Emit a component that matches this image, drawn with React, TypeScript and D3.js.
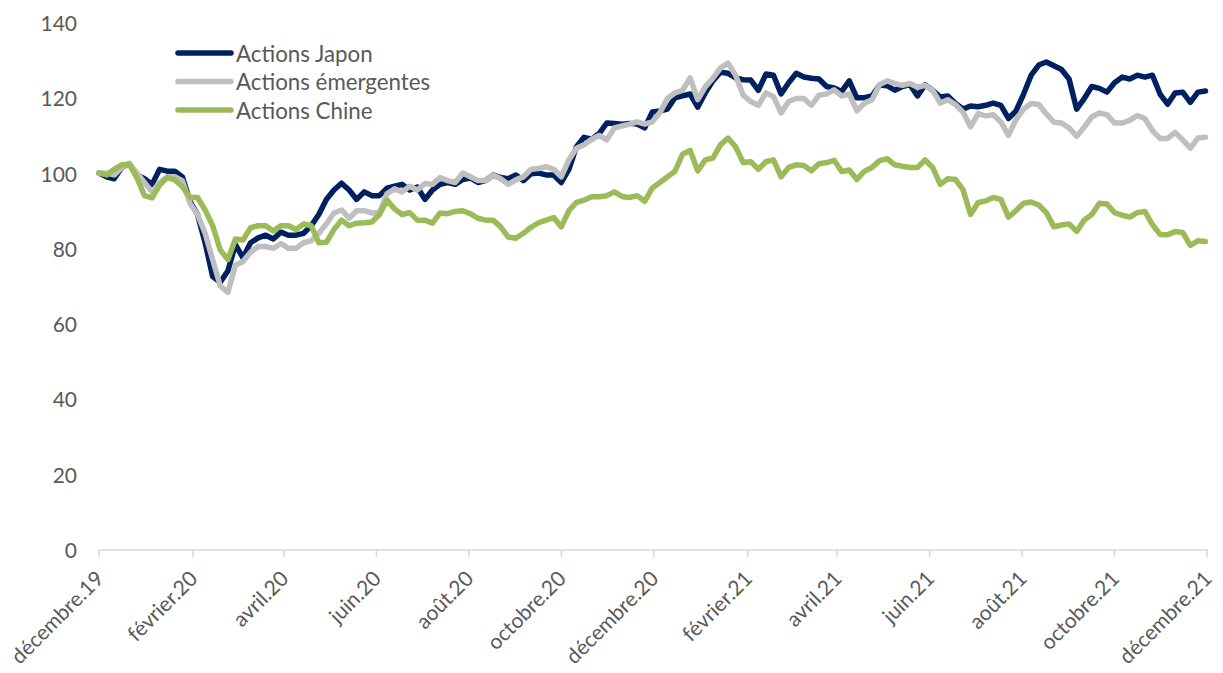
import React from "react";
import * as d3 from "d3";

// Series values (sampled every 5 days from 1 Dec 2019)
const japon: number[] = [
  100, 99, 98.5, 101.5, 102.5, 99.5, 98.5, 97, 101, 100.5,
  100.5, 99, 92.5, 89, 81.5, 72.5, 71, 74, 81, 77.5,
  81.5, 82.8, 83.5, 82.5, 84.3, 83.5, 83.5, 84, 86, 89,
  93, 95.5, 97.3, 95.5, 93, 95, 94, 94, 96, 96.5,
  97, 95.5, 96.3, 93, 95.5, 97, 97.5, 97, 98.3, 98.7,
  97.5, 98, 99.5, 98.8, 98.5, 99.5, 98, 99.8, 100, 99.5,
  99.5, 97.5, 101, 107, 109.5, 109, 110.5, 113.3, 113.2, 113,
  113.2, 113, 112, 116.2, 116.5, 117, 120, 120.5, 121, 117.5,
  121.3, 124.5, 126.8, 126.5, 125.3, 124.8, 124.7, 122, 126.3, 126,
  121, 124, 126.5, 125.5, 125.2, 125, 123, 122.6, 121.7, 124.5,
  120, 120, 120.5, 123.4, 123.2, 122, 123, 123.5, 120.5, 123.4,
  122, 120.2, 120.5, 118.5, 117, 117.8, 117.6, 118, 118.6, 118,
  114.5, 116.5, 121, 126, 128.7, 129.5, 128.5, 127.5, 125, 117,
  119.8, 123, 122.5, 121.5, 124, 125.5, 125, 126, 125.5, 126,
  121, 118.3, 121.3, 121.5, 118.8, 121.5, 121.8,
];

const emergentes: number[] = [
  100, 100, 99.5, 101.5, 102.5, 100, 97.5, 95, 97.5, 99,
  99, 98, 92, 89, 84, 77, 70, 68.3, 75.5, 76.5,
  79, 80.5, 80.5, 80, 81.3, 80, 80, 81.5, 82, 84,
  86.5, 89.4, 90.2, 88, 90, 90, 89.4, 89.5, 94.5, 95.8,
  95, 96.5, 95.5, 97.2, 97, 98.8, 98, 97.5, 100, 99,
  98, 98, 99.5, 98.5, 97, 98.2, 99, 101, 101.2, 101.7,
  101, 99, 103.5, 106.6, 107.5, 109, 110, 108.8, 112, 112.5,
  113, 113.6, 113, 113.6, 116, 119.8, 121.3, 122, 125.3, 119.5,
  122.9, 125.2, 127.9, 129.2, 126, 120.7, 119, 118, 121.3, 120.3,
  116, 119, 119.8, 119.8, 118, 120.7, 121, 122.1, 120.5, 121,
  116.5, 118.6, 119.5, 123.5, 124.5, 123.8, 123.3, 123.8, 122.8, 123.3,
  122, 118.6, 119.5, 118.2, 116.2, 112.3, 115.8, 115.2, 115.5, 113.6,
  110, 114.2, 117, 118.5, 118.2, 115.7, 113.5, 113.3, 112, 109.8,
  112.2, 114.9, 116, 115.5, 113.3, 113.3, 114, 115.3, 114.5, 111.3,
  109.2, 109.2, 110.8, 108.8, 106.6, 109.3, 109.5,
];

const chine: number[] = [
  100, 99.5, 101, 102.2, 102.3, 98.8, 94, 93.4, 96.8, 98.8,
  98.2, 96.4, 93.5, 93.5, 90.2, 86, 79.6, 77, 82.5, 82.2,
  85.5, 86, 86, 84.6, 86, 86, 85, 86.5, 86, 81.5,
  81.6, 85, 87.5, 86, 86.7, 86.8, 87, 89, 92.8, 90.5,
  89, 89.5, 87.5, 87.5, 86.7, 89.4, 89.2, 89.8, 90, 89.2,
  88, 87.5, 87.5, 85.7, 83, 82.7, 84, 85.6, 86.8, 87.5,
  88.2, 85.7, 90, 92.2, 92.8, 93.7, 93.7, 94, 95, 93.8,
  93.5, 94, 92.5, 96, 97.5, 99, 100.5, 105, 106, 100.6,
  103.5, 104, 107.5, 109.3, 107, 102.8, 103, 101, 103, 103.5,
  99, 101.5, 102.2, 102, 100.6, 102.5, 102.8, 103.4, 100.4, 100.8,
  98.3, 100.5, 101.5, 103.3, 103.8, 102.2, 101.8, 101.5, 101.5, 103.5,
  101.5, 97, 98.5, 98.3, 95.6, 89, 92.2, 92.6, 93.5, 93,
  88.3, 90, 92, 92.3, 91.5, 89.5, 85.7, 86.2, 86.5, 84.5,
  87.5, 89, 92, 91.8, 89.5, 88.8, 88.3, 89.5, 89.8, 86.3,
  83.7, 83.6, 84.5, 84.2, 80.8, 82, 81.8,
];

const seriesNames = ["Actions Japon", "Actions émergentes", "Actions Chine"];
const seriesColors = ["#002060", "#BFBFBF", "#9BBB59"];

const xTickLabels = [
  "décembre.19", "février.20", "avril.20", "juin.20", "août.20", "octobre.20",
  "décembre.20", "février.21", "avril.21", "juin.21", "août.21", "octobre.21", "décembre.21",
];
const yTicks = [0, 20, 40, 60, 80, 100, 120, 140];

const START = new Date(2019, 11, 1);
const END = new Date(2021, 11, 1);
const STEP_DAYS = 5;

export default function App() {
  const W = 1223;
  const H = 673;
  const x = d3.scaleTime().domain([START, END]).range([99, 1207]);
  const y = d3.scaleLinear().domain([0, 140]).range([549.5, 22.5]);
  const font = "Lato, 'Open Sans', sans-serif";
  const textColor = "#595959";

  const allSeries = [japon, emergentes, chine];
  const line = d3
    .line<number>()
    .x((_, i) => x(d3.timeDay.offset(START, i * STEP_DAYS)))
    .y((v) => y(v));

  const tickDates = xTickLabels.map((_, i) => d3.timeMonth.offset(START, i * 2));

  return (
    <div style={{ position: "fixed", left: 0, top: 0 }}>
      <svg width={W} height={H} style={{ display: "block", background: "#fff" }}>
        {/* y tick labels */}
        {yTicks.map((t) => (
          <text
            key={t}
            x={77}
            y={y(t)}
            textAnchor="end"
            dominantBaseline="central"
            fontFamily={font}
            fontSize={21}
            fill={textColor}
          >
            {t}
          </text>
        ))}
        {/* x axis */}
        <line x1={x(START)} x2={x(END) + 1} y1={550} y2={550} stroke="#D9D9D9" strokeWidth={1.5} />
        {tickDates.map((d, i) => (
          <line key={"t" + i} x1={x(d)} x2={x(d)} y1={550} y2={557} stroke="#D9D9D9" strokeWidth={1.5} />
        ))}
        {tickDates.map((d, i) => (
          <text
            key={"l" + i}
            transform={`translate(${x(d) + 6},${580}) rotate(-45)`}
            textAnchor="end"
            fontFamily={font}
            fontSize={21}
            fill={textColor}
          >
            {xTickLabels[i]}
          </text>
        ))}
        {/* series */}
        {allSeries.map((s, i) => (
          <path
            key={"s" + i}
            d={line(s) || ""}
            fill="none"
            stroke={seriesColors[i]}
            strokeWidth={5.5}
            strokeLinejoin="round"
            strokeLinecap="round"
          />
        ))}
        {/* legend */}
        {seriesNames.map((n, i) => (
          <g key={"lg" + i} transform={`translate(0,${53 + i * 28.5})`}>
            <line x1={178} x2={231} y1={0} y2={0} stroke={seriesColors[i]} strokeWidth={5.5} strokeLinecap="round" />
            <text x={236} y={0} dominantBaseline="central" fontFamily={font} fontSize={22.3} fill={textColor}>
              {n}
            </text>
          </g>
        ))}
      </svg>
    </div>
  );
}
